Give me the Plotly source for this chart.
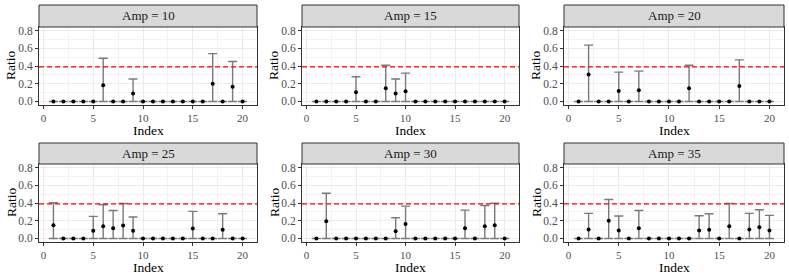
import plotly.graph_objects as go

index = list(range(1, 21))
amps = [10, 15, 20, 25, 30, 35]

# point estimates (nonzero entries only, others 0)
ratio_10 = {6: 0.182, 9: 0.089, 17: 0.200, 19: 0.167}
upper_10 = {6: 0.487, 9: 0.253, 17: 0.540, 19: 0.450}
ratio_15 = {5: 0.104, 8: 0.149, 9: 0.089, 10: 0.115}
upper_15 = {5: 0.279, 8: 0.409, 9: 0.253, 10: 0.320}
ratio_20 = {2: 0.305, 5: 0.119, 7: 0.127, 12: 0.149, 17: 0.175}
upper_20 = {2: 0.636, 5: 0.331, 7: 0.342, 12: 0.409, 17: 0.469}
ratio_25 = {1: 0.149, 5: 0.086, 6: 0.138, 7: 0.115, 8: 0.145, 9: 0.086, 15: 0.112, 18: 0.097}
upper_25 = {1: 0.402, 5: 0.249, 6: 0.380, 7: 0.316, 8: 0.394, 9: 0.242, 15: 0.305, 18: 0.279}
ratio_30 = {2: 0.193, 9: 0.082, 10: 0.164, 16: 0.115, 18: 0.138, 19: 0.149}
upper_30 = {2: 0.510, 9: 0.234, 10: 0.365, 16: 0.320, 18: 0.372, 19: 0.398}
ratio_35 = {2: 0.100, 4: 0.200, 5: 0.089, 7: 0.115, 13: 0.089, 14: 0.097, 16: 0.138, 18: 0.100, 19: 0.126, 20: 0.089}
upper_35 = {2: 0.283, 4: 0.439, 5: 0.253, 7: 0.316, 13: 0.257, 14: 0.279, 16: 0.394, 18: 0.283, 19: 0.324, 20: 0.260}

ratios = [ratio_10, ratio_15, ratio_20, ratio_25, ratio_30, ratio_35]
uppers = [upper_10, upper_15, upper_20, upper_25, upper_30, upper_35]
threshold = 0.39

x_ticks = [0, 5, 10, 15, 20]
y_ticks = [0.0, 0.2, 0.4, 0.6, 0.8]
y_ticklabels = ["0.0", "0.2", "0.4", "0.6", "0.8"]

W, H = 789, 276
cols_px = [(39, 257), (302, 519), (564, 784)]
rows_px = [(5, 27, 105), (143, 164, 242)]  # strip top, plot top, plot bottom

FONT = "Liberation Serif, Times New Roman, Times, serif"
fig = go.Figure()

for i, amp in enumerate(amps):
    r, c = divmod(i, 3)
    n = i + 1
    xa = "x" if n == 1 else f"x{n}"
    ya = "y" if n == 1 else f"y{n}"
    vals = [ratios[i].get(k, 0.0) for k in index]
    ups = [uppers[i].get(k, 0.0) for k in index]
    plus = [u - v for u, v in zip(ups, vals)]
    minus = vals
    fig.add_trace(go.Scatter(
        x=index, y=vals, mode="markers", xaxis=xa, yaxis=ya,
        marker=dict(color="black", size=4),
        error_y=dict(type="data", array=plus, arrayminus=minus, symmetric=False,
                     color="#7a7a7a", thickness=1.4, width=4.5),
        showlegend=False, hoverinfo="skip"))
    x0, x1 = cols_px[c]
    st, pt, pb = rows_px[r]
    xd = [x0 / W, x1 / W]
    yd = [1 - pb / H, 1 - pt / H]
    axkey = "xaxis" if n == 1 else f"xaxis{n}"
    aykey = "yaxis" if n == 1 else f"yaxis{n}"
    fig.layout[axkey] = dict(
        domain=xd, anchor=ya, range=[-0.45, 21.45], tickvals=x_ticks,
        showgrid=True, gridcolor="#ebebeb", gridwidth=1,
        minor=dict(dtick=2.5, tick0=2.5, showgrid=True, gridcolor="#f2f2f2", gridwidth=0.6),
        zeroline=False, showline=True, mirror=True, linecolor="#333333", linewidth=1,
        ticks="outside", ticklen=3, tickcolor="#333333", tickwidth=1,
        tickfont=dict(family=FONT, size=11, color="#4d4d4d"),
        automargin=False, fixedrange=True)
    fig.layout[aykey] = dict(
        domain=yd, anchor=xa, range=[-0.04, 0.84], tickvals=y_ticks, ticktext=y_ticklabels,
        showgrid=True, gridcolor="#ebebeb", gridwidth=1,
        minor=dict(dtick=0.2, tick0=0.1, showgrid=True, gridcolor="#f2f2f2", gridwidth=0.6),
        zeroline=False, showline=True, mirror=True, linecolor="#333333", linewidth=1,
        ticks="outside", ticklen=3, tickcolor="#333333", tickwidth=1,
        tickfont=dict(family=FONT, size=11.5, color="#4d4d4d"),
        automargin=False, fixedrange=True)
    # axis titles as annotations (precise placement)
    fig.add_annotation(xref="paper", yref="paper", x=(x0 + x1) / 2 / W, y=1 - (pb + 25) / H,
                       text="Index", showarrow=False, xanchor="center", yanchor="middle",
                       font=dict(family=FONT, size=13.5, color="black"))
    fig.add_annotation(xref="paper", yref="paper", x=(x0 - 28) / W, y=1 - (pt + pb) / 2 / H,
                       text="Ratio", showarrow=False, textangle=-90, xanchor="center", yanchor="middle",
                       font=dict(family=FONT, size=13.5, color="black"))
    # threshold line
    fig.add_shape(type="line", xref=f"{xa} domain", yref=ya, x0=0, x1=1, y0=threshold, y1=threshold,
                  line=dict(color="#ff0000", width=1.3, dash="5px,3px"), layer="above")
    # strip
    ph = pb - pt
    stop = 1 + (pt - st) / ph
    fig.add_shape(type="rect", xref=f"{xa} domain", yref=f"{ya} domain", x0=0, x1=1, y0=1, y1=stop,
                  fillcolor="#d9d9d9", line=dict(color="#333333", width=1))
    fig.add_annotation(xref=f"{xa} domain", yref=f"{ya} domain", x=0.5, y=(1 + stop) / 2,
                       text=f"Amp = {amp}", showarrow=False, yanchor="middle",
                       font=dict(family=FONT, size=13, color="#1a1a1a"))

fig.update_layout(width=W, height=H, margin=dict(l=0, r=0, t=0, b=0),
                  paper_bgcolor="white", plot_bgcolor="white",
                  font=dict(family=FONT))
fig.write_html("out.html", config={"displayModeBar": False},
               post_script="document.body.style.margin='0px';")
